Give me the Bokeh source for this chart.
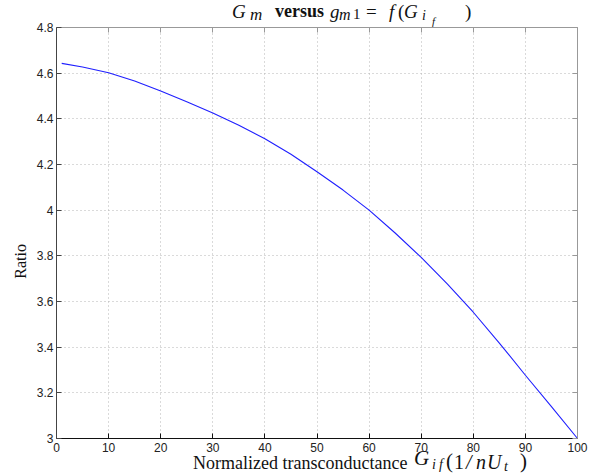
from bokeh.plotting import figure
from bokeh.models import LinearAxis, Range1d, FixedTicker, Div
from bokeh.layouts import column, row
from bokeh.embed import file_html
from bokeh.resources import INLINE

# data
gif_values = [1, 5, 10, 15, 20, 25, 30, 35, 40, 45, 50, 55, 60, 65, 70, 75, 80, 85, 90, 95, 100]
ratio_values = [4.643, 4.627, 4.602, 4.566, 4.522, 4.475, 4.426, 4.372, 4.313, 4.245,
                4.168, 4.088, 4.000, 3.900, 3.793, 3.677, 3.553, 3.418, 3.277, 3.140, 3.000]
x_ticks = [0, 10, 20, 30, 40, 50, 60, 70, 80, 90, 100]
y_ticks = [3, 3.2, 3.4, 3.6, 3.8, 4, 4.2, 4.4, 4.6, 4.8]
y_tick_labels = ["3", "3.2", "3.4", "3.6", "3.8", "4", "4.2", "4.4", "4.6", "4.8"]

TITLE_H = 17
LEFT_W = 33
FIG_H = 456 - TITLE_H

p = figure(width=599 - LEFT_W, height=FIG_H, output_backend="svg", toolbar_location=None,
           x_range=Range1d(0, 100), y_range=Range1d(3, 4.8),
           min_border_left=22, min_border_right=22, min_border_top=10, min_border_bottom=18,
           x_axis_location=None, y_axis_location=None, margin=0)
p.background_fill_color = "white"
p.border_fill_color = None
p.outline_line_color = None

def style_axis(ax, ticks, labels=True, color="#333333"):
    ax.ticker = FixedTicker(ticks=ticks)
    ax.major_tick_in = 5
    ax.major_tick_out = 0
    ax.minor_tick_in = 0
    ax.minor_tick_out = 0
    ax.axis_line_color = color
    ax.major_tick_line_color = color
    if labels:
        ax.major_label_text_font = "Liberation Sans"
        ax.major_label_text_font_size = "12px"
        ax.major_label_text_color = "#222222"
        ax.major_label_standoff = 4
    else:
        ax.major_label_text_font_size = "1px"
        ax.major_label_text_color = None
        ax.major_label_standoff = 0

bx = LinearAxis()
style_axis(bx, x_ticks, True, "#111111")
bx.major_label_overrides = {t: str(t) for t in x_ticks}
p.add_layout(bx, "below")
ly = LinearAxis()
style_axis(ly, y_ticks, True, "#444444")
ly.major_label_overrides = dict(zip(y_ticks, y_tick_labels))
ly.major_label_standoff = 3
p.add_layout(ly, "left")
tx = LinearAxis()
style_axis(tx, x_ticks, False, "#999999")
p.add_layout(tx, "above")
ry = LinearAxis()
style_axis(ry, y_ticks, False, "#999999")
p.add_layout(ry, "right")

p.xgrid.ticker = FixedTicker(ticks=x_ticks)
p.ygrid.ticker = FixedTicker(ticks=y_ticks)
for g in (p.xgrid, p.ygrid):
    g.grid_line_color = "#b5b5b5"
    g.grid_line_dash = "1 3"
    g.grid_line_width = 1

p.line(gif_values, ratio_values, line_color="#1f1fff", line_width=1.1)

def span(s, left, base, size=18, style="normal", weight="normal"):
    top = base - 0.8375 * size
    return (f'<span style="position:absolute; left:{left}px; top:{top:.1f}px; '
            f'font-family:\'Liberation Serif\'; font-size:{size}px; line-height:{size}px; '
            f'font-style:{style}; font-weight:{weight}; color:#111; white-space:nowrap">{s}</span>')

def box(parts, w, h):
    return (f'<div style="position:relative; width:{w}px; height:{h}px; overflow:visible">'
            + "".join(parts) + "</div>")

# title: G_m versus g_m1 = f(G_{i_f})
title_parts = [
    span("G", 232, 17.5, 19, "italic"),
    span("m", 250, 20, 17, "italic"),
    span("versus", 275, 17.5, 18, "normal", "bold"),
    span("g", 330, 17.5, 19, "italic"),
    span("m", 339, 20, 16, "italic"),
    span("1", 353, 20, 15),
    span("=", 366, 17.5, 19),
    span("f", 389, 17.5, 19, "italic"),
    span("(", 398, 17.5, 19),
    span("G", 404, 17.5, 19, "italic"),
    span("i", 422, 21, 14, "italic"),
    span("f", 432, 25, 11, "italic"),
    span(")", 465, 17.5, 19),
]
title_div = Div(text=box(title_parts, 599, TITLE_H), width=599, height=TITLE_H, margin=0)

# x label: Normalized transconductance G_if(1/nU_t)
XB = 456
xl_parts = [
    span("Normalized transconductance", 193, 469 - XB, 18),
    span("G", 414, 466 - XB, 21, "italic"),
    span("i", 432, 470 - XB, 14, "italic"),
    span("f", 439, 470 - XB, 14, "italic"),
    span("(", 446, 469 - XB, 21),
    span("1", 454, 469 - XB, 20),
    span("/", 466, 469 - XB, 20, "italic"),
    span("n", 476, 469 - XB, 20, "italic"),
    span("U", 487, 469 - XB, 20, "italic"),
    span("t", 504, 472 - XB, 14, "italic"),
    span(")", 520, 469 - XB, 21),
]
xlabel_div = Div(text=box(xl_parts, 599, 473 - XB), width=599, height=473 - XB, margin=0)

ratio_html = ('<div style="position:relative; width:33px; height:%dpx">'
              '<span style="position:absolute; left:11px; top:227px; writing-mode:vertical-rl; '
              'transform:rotate(180deg); font-family:\'Liberation Serif\'; font-size:16px; '
              'line-height:20px; color:#111">Ratio</span></div>') % FIG_H
ratio_div = Div(text=ratio_html, width=LEFT_W, height=FIG_H, margin=0)

layout = column(title_div, row(ratio_div, p, spacing=0, margin=0), xlabel_div, spacing=0, margin=0)

open("out.html", "w").write(file_html(layout, INLINE))
